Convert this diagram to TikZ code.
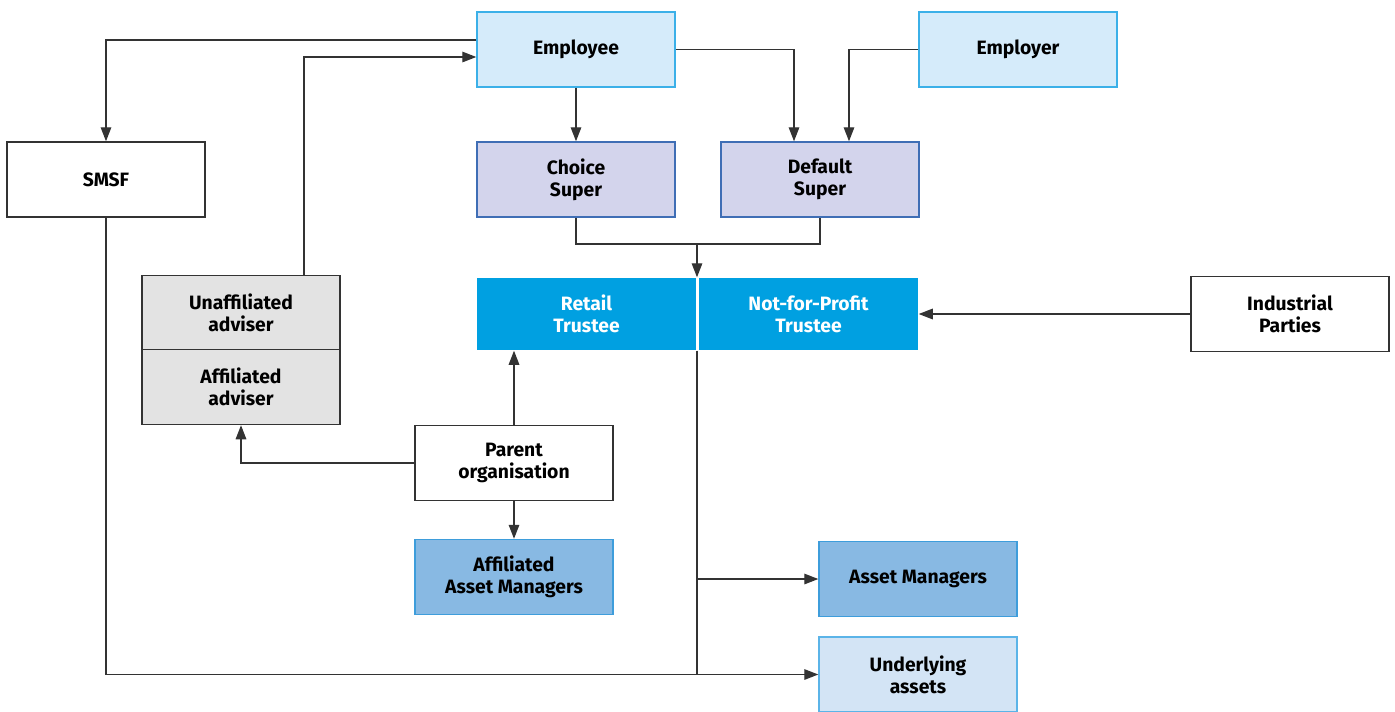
\documentclass[tikz,border=0pt]{standalone}
\usepackage{fontspec}
\setmainfont{Fira Sans}
\usetikzlibrary{arrows.meta}
\usepackage{xcolor}
\definecolor{linegrey}{HTML}{333333}
\definecolor{empfill}{HTML}{D5EBFA}
\definecolor{empline}{HTML}{3BB0E8}
\definecolor{superfill}{HTML}{D3D4EC}
\definecolor{superline}{HTML}{3F6EB5}
\definecolor{trustfill}{HTML}{00A0E1}
\definecolor{advfill}{HTML}{E3E3E3}
\definecolor{amfill}{HTML}{88B9E3}
\definecolor{amline}{HTML}{3E9DDB}
\definecolor{ulfill}{HTML}{D3E4F5}
\definecolor{ulline}{HTML}{5BB4E8}

\begin{document}
\begin{tikzpicture}[x=0.02cm, y=-0.02cm, >={Triangle[length=8pt,width=6pt]},
  every node/.style={font=\bfseries\fontsize{11}{12.5}\selectfont, align=center}]
\tikzstyle{box}=[draw=linegrey, line width=0.8pt, minimum width=3.96cm, minimum height=1.5cm, inner sep=0pt]
\tikzstyle{link}=[draw=linegrey, line width=0.8pt]
\useasboundingbox (0,0) rectangle (1395,711);

% members and employers
\node[box, fill=empfill, draw=empline] (emp) at (576,49.5) {Employee};
\node[box, fill=empfill, draw=empline] (er) at (1018,49.5) {Employer};
\node[box] (smsf) at (106,179.5) {SMSF};
\node[box, fill=superfill, draw=superline] (cho) at (576,179.5) {Choice\\Super};
\node[box, fill=superfill, draw=superline] (def) at (820,179.5) {Default\\Super};

% trustees
\node[box, draw=none, fill=trustfill, text=white, minimum width=4.38cm, minimum height=1.44cm] (ret) at (586.5,314) {Retail\\Trustee};
\node[box, draw=none, fill=trustfill, text=white, minimum width=4.38cm, minimum height=1.44cm] (nfp) at (808.5,314) {Not-for-Profit\\Trustee};
\node[box] (ind) at (1290,314) {Industrial\\Parties};

% advisers and parent
\node[box, fill=advfill] (adv1) at (241,313) {Unaffiliated\\adviser};
\node[box, fill=advfill] (adv2) at (241,387) {Affiliated\\adviser};
\node[box] (par) at (514,463) {Parent\\organisation};
\node[box, fill=amfill, draw=amline] (aam) at (514,577) {Affiliated\\Asset Managers};

% managers and assets
\node[box, fill=amfill, draw=amline] (am) at (918,579) {Asset Managers};
\node[box, fill=ulfill, draw=ulline] (ula) at (918,674.5) {Underlying\\assets};

\coordinate (join) at (697,244);

\draw[link,->] ([yshift=0.19cm]emp.west) -| (smsf.north);
\draw[link,->] ([xshift=1.26cm]adv1.north) |- ([yshift=-0.15cm]emp.west);
\draw[link,->] (emp.south) -- (cho.north);
\draw[link,->] (emp.east) -| ([xshift=-0.52cm]def.north);
\draw[link,->] (er.west) -| ([xshift=0.58cm]def.north);
\draw[link] (cho.south) |- (join) -| (def.south);
\draw[link,->] (join) -- (join |- ret.north);
\draw[link,->] (ind.west) -- (nfp.east);
\draw[link,->] (par.north) -- (par.north |- ret.south);
\draw[link,->] (par.west) -| (adv2.south);
\draw[link,->] (par.south) -- (aam.north);
\draw[link] (join |- ret.south) -- (join |- ula.west);
\draw[link,->] (join |- am.west) -- (am.west);
\draw[link,->] (smsf.south) |- (ula.west);
\end{tikzpicture}
\end{document}
